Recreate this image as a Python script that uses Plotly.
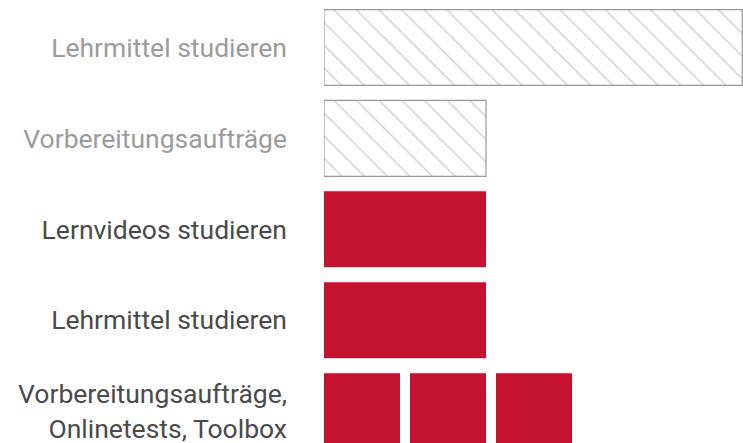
import plotly.graph_objects as go

# Data (units of effort)
labels = [
    "Lehrmittel studieren",
    "Vorbereitungsaufträge",
    "Lernvideos studieren",
    "Lehrmittel studieren",
    "Vorbereitungsaufträge,<br>Onlinetests, Toolbox",
]
label_colors = ["#9b9b9b", "#9b9b9b", "#4a4a4a", "#4a4a4a", "#4a4a4a"]
hatched_rows = [0, 1]
hatched_values = [4.98, 2]
solid_rows = [2, 3]
solid_values = [2, 2]
segment_row = 4
segment_count = 3

GAP = 10 / 86  # gap between unit blocks, in units
RED = "#c41230"
GREY = "#999999"
BAR_W = 0.835

fig = go.Figure()

fig.add_trace(go.Bar(
    orientation="h",
    y=hatched_rows,
    x=[v - GAP for v in hatched_values],
    base=0,
    width=BAR_W,
    marker=dict(
        color="white",
        line=dict(color=GREY, width=1.2),
        pattern=dict(shape="\\", fgcolor="#959595", bgcolor="white", size=16, solidity=0.08),
    ),
    hoverinfo="skip",
))

fig.add_trace(go.Bar(
    orientation="h",
    y=solid_rows,
    x=[v - GAP for v in solid_values],
    base=0,
    width=BAR_W,
    marker=dict(color=RED, line=dict(width=0)),
    hoverinfo="skip",
))

fig.add_trace(go.Bar(
    orientation="h",
    y=[segment_row] * segment_count,
    x=[1 - GAP] * segment_count,
    base=list(range(segment_count)),
    width=BAR_W,
    marker=dict(color=RED, line=dict(width=0)),
    hoverinfo="skip",
))

ticktext = [f'<span style="color:{c}">{t}</span>' for t, c in zip(labels, label_colors)]

fig.update_layout(
    width=743, height=443,
    margin=dict(l=324, r=0, t=0, b=0),
    paper_bgcolor="white", plot_bgcolor="white",
    barmode="overlay",
    showlegend=False,
    font=dict(family="Roboto", size=26.5, color="#4a4a4a"),
    xaxis=dict(range=[0, 419 / 86], visible=False, fixedrange=True),
    yaxis=dict(
        range=[395.5 / 90.9, -47.5 / 90.9],
        tickvals=list(range(len(labels))),
        ticktext=ticktext,
        showgrid=False, zeroline=False, showline=False,
        ticks="", ticklabelstandoff=36,
        ticklabeloverflow="allow",
        fixedrange=True,
    ),
)

fig.write_html(
    "out.html",
    config={"displayModeBar": False, "staticPlot": True},
    post_script="document.body.style.margin='0';document.body.style.overflow='hidden';",
)
